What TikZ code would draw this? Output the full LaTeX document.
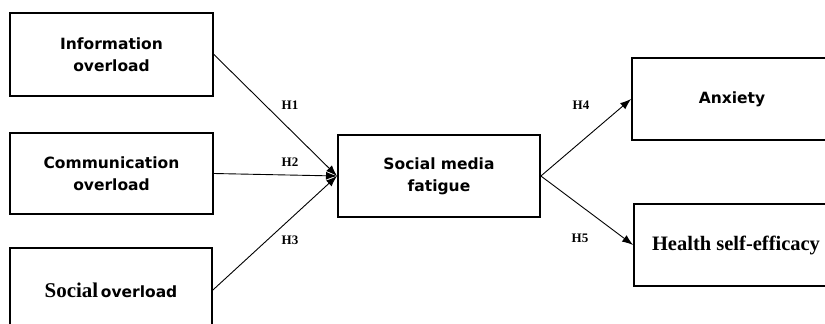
\documentclass[tikz,border=0pt]{standalone}
\usepackage{fontspec}
\setmainfont{Liberation Serif}
\newfontfamily\boxsans{DejaVu Sans}
\usetikzlibrary{arrows.meta}
\begin{document}
\begin{tikzpicture}[x=1pt,y=-1pt,
  box/.style={draw,line width=1.8pt,rectangle,inner sep=0pt,align=center,
    font=\boxsans\bfseries\fontsize{15.5}{22}\selectfont},
  hyp/.style={font=\bfseries\fontsize{13}{15}\selectfont},
  arr/.style={line width=0.9pt,-{Latex[length=11pt,width=8pt]}}]
\useasboundingbox (0,0) rectangle (825,324);
\clip (0,0) rectangle (825,324);
\node[box,minimum width=203pt,minimum height=83pt] (io) at (111.5,54.5) {Information\\overload};
\node[box,minimum width=203pt,minimum height=81pt] (co) at (111.5,173.5) {Communication\\overload};
\node[box,minimum width=202pt,minimum height=84pt] (so) at (111,290) {{\rmfamily\fontsize{21}{22}\selectfont Social}\,overload};
\node[box,minimum width=202pt,minimum height=82pt] (sm) at (439,176) {Social media\\fatigue};
\node[box,minimum width=200pt,minimum height=82pt] (ax) at (732,99) {Anxiety};
\node[box,minimum width=204pt,minimum height=82pt,font=\rmfamily\bfseries\fontsize{20.5}{22}\selectfont] (hs) at (736,245) {Health self-efficacy};
\coordinate (tip) at (337,176);
\draw[arr] (io.east) -- (tip);
\draw[arr] (co.east) -- (tip);
\draw[arr] (so.east) -- (tip);
\draw[arr] (sm.east) -- (ax.west);
\draw[arr] (sm.east) -- (hs.west);
\node[hyp] (h1) at (290,105) {H1};
\node[hyp] (h2) at (290,162) {H2};
\node[hyp] (h3) at (290,240) {H3};
\node[hyp] (h4) at (581,105) {H4};
\node[hyp] (h5) at (580,238) {H5};
\end{tikzpicture}
\end{document}
